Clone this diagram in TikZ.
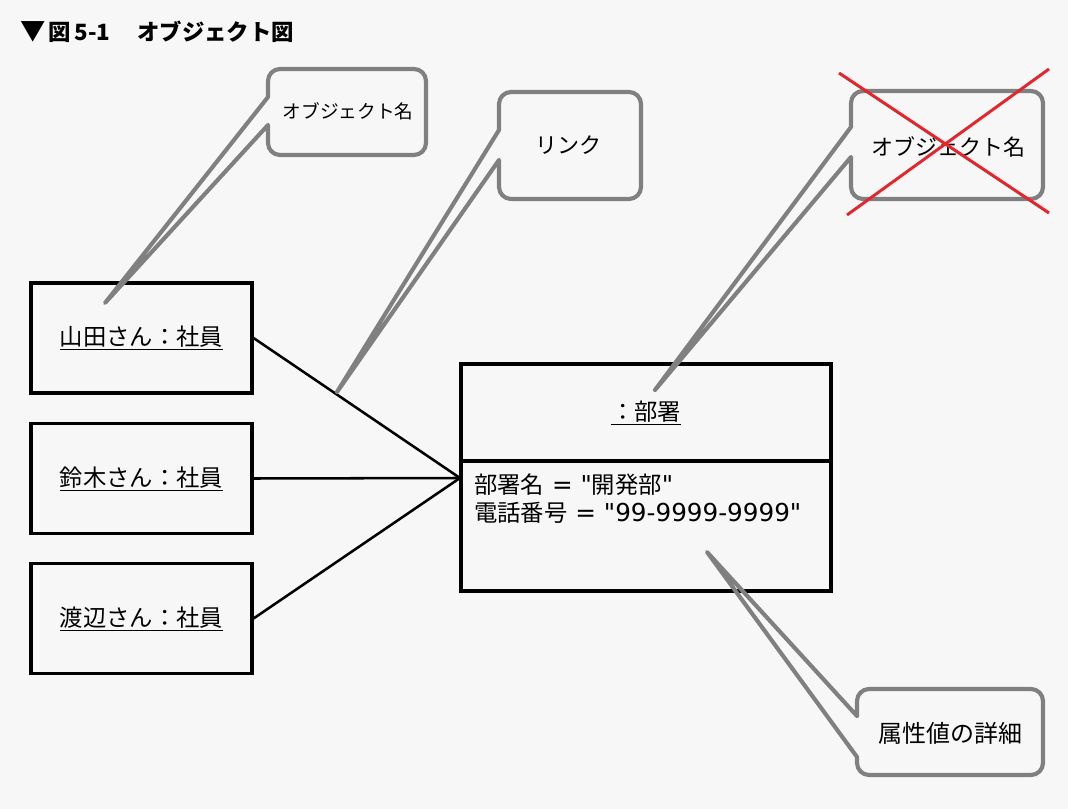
\documentclass[tikz,border=0pt]{standalone}
\usepackage{fontspec}
\setmainfont{Noto Sans CJK JP}
\newfontfamily\jp{Noto Sans CJK JP}
\newfontfamily\lat{DejaVu Sans}
\definecolor{bgcol}{HTML}{F7F7F7}
\definecolor{cgray}{HTML}{808080}
\definecolor{xred}{HTML}{E5252C}
\newcommand{\callout}[7]{%
  \draw[callout] (#1,#5) -- #7 -- (#1,#6) -- (#1,#6+4) [rounded corners=9pt] -- (#1,#4) -- (#3,#4) -- (#3,#2) -- (#1,#2) -- (#1,#5);}
\newcommand{\la}[1]{{\lat\fontsize{18.5}{20}\selectfont #1}}
\begin{document}
\begin{tikzpicture}[x=0.75pt,y=-0.75pt,
  every node/.style={font=\jp},
  objbox/.style={draw=black,line width=2.3pt,minimum width=165.75pt,minimum height=82.5pt,inner sep=0pt},
  objtext/.style={font=\jp\fontsize{17.5}{20}\selectfont},
  link/.style={draw=black,line width=1.9pt},
  callout/.style={draw=cgray,line width=3.1pt,line join=round,line cap=round},
  cross/.style={draw=xred,line width=2.2pt},
  titletext/.style={anchor=west,inner sep=0pt,font=\jp\fontsize{16.8}{18}\selectfont\bfseries}]
\fill[bgcol] (0,0) rectangle (1068,809);
\useasboundingbox (0,0) rectangle (1068,809);
% title
\node[inner sep=0pt,font=\jp\fontsize{19}{20}\selectfont] (tri) at (33,32) {▼};
\node[titletext] (fig) at (48,32) {図\,5-1};
\node[titletext] (title) at (137,32) {オブジェクト図};
% employee objects
\node[objbox,objtext] (yamada) at (141.5,338) {\underline{山田さん：社員}};
\node[objbox,objtext] (suzuki) at (141.5,478.5) {\underline{鈴木さん：社員}};
\node[objbox,objtext] (watanabe) at (141.5,618.5) {\underline{渡辺さん：社員}};
% department object
\node[draw=black,line width=2.3pt,minimum width=277.5pt,minimum height=170.25pt,inner sep=0pt] (dept) at (646,477.5) {};
\coordinate (div) at (646,461);
\draw[black,line width=2.3pt] (dept.west |- div) -- (dept.east |- div);
\node[objtext,inner sep=0pt] (deptname) at (646,413) {\underline{：部署}};
\node[objtext,anchor=north west,align=left,inner sep=0pt] (attrs) at (474,474) {部署名\la{ = "}開発部\la{"}\\[1pt]電話番号\la{ = "99-9999-9999"}};
% links
\coordinate (join) at (460,478);
\draw[link] (yamada.east) -- (join);
\draw[link] (suzuki.east) -- (join);
\draw[link] (watanabe.east) -- (join);
% callouts
\coordinate (tip1) at (105,303);
\coordinate (tip2) at (337,392);
\coordinate (tip3) at (655,390);
\coordinate (tip4) at (707,552);
\callout{268}{69}{426}{155}{97}{125}{(tip1)}
\node[font=\jp\fontsize{14}{16}\selectfont,inner sep=0pt] (c1) at (348,111) {オブジェクト名};
\callout{499}{92}{641}{199}{130}{160}{(tip2)}
\node[font=\jp\fontsize{16.5}{18}\selectfont,inner sep=0pt] (c2) at (568,145) {リンク};
\callout{851}{91}{1043}{199}{127}{157}{(tip3)}
\node[font=\jp\fontsize{16.5}{18}\selectfont,inner sep=0pt] (c3) at (948,147) {オブジェクト名};
\callout{857}{689}{1043}{775}{716}{757}{(tip4)}
\node[font=\jp\fontsize{18}{20}\selectfont,inner sep=0pt] (c4) at (950,733) {属性値の詳細};
% red cross
\draw[cross] (839,73) -- (1049,213);
\draw[cross] (1049,69) -- (847,215);
\end{tikzpicture}
\end{document}
